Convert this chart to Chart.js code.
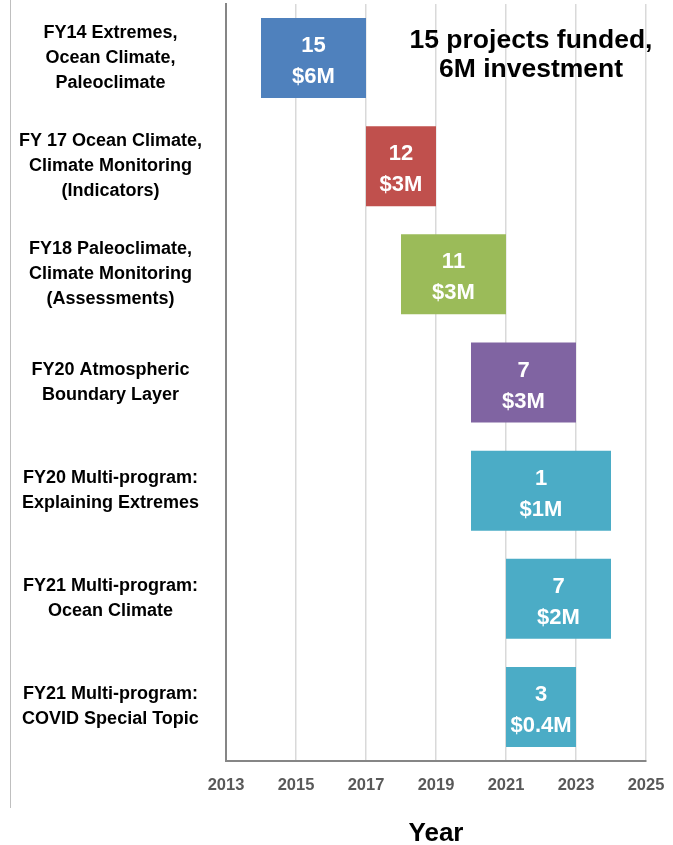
<!DOCTYPE html>
<html>
<head>
<meta charset="utf-8">
<script src="https://cdn.jsdelivr.net/npm/chart.js@4.4.1/dist/chart.umd.min.js"></script>
<style>
  html, body { margin: 0; padding: 0; background: #fff; }
  #wrap { width: 673px; height: 845px; position: relative; }
</style>
</head>
<body>
<div id="wrap"><canvas id="fundingChart"></canvas></div>
<script>
// programs (y categories), top to bottom
const programs = [
    ['FY14 Extremes,', 'Ocean Climate,', 'Paleoclimate'],
    ['FY 17 Ocean Climate,', 'Climate Monitoring', '(Indicators)'],
    ['FY18 Paleoclimate,', 'Climate Monitoring', '(Assessments)'],
    ['FY20 Atmospheric', 'Boundary Layer'],
    ['FY20 Multi-program:', 'Explaining Extremes'],
    ['FY21 Multi-program:', 'Ocean Climate'],
    ['FY21 Multi-program:', 'COVID Special Topic']
];
const startYears = [2014, 2017, 2018, 2020, 2020, 2021, 2021];
const endYears = [2017, 2019, 2021, 2023, 2024, 2024, 2023];
const projectCounts = ['15', '12', '11', '7', '1', '7', '3'];
const fundingAmounts = ['$6M', '$3M', '$3M', '$3M', '$1M', '$2M', '$0.4M'];
const barColors = ['#4f81bd', '#c0504d', '#9bbb59', '#8064a2', '#4bacc6', '#4bacc6', '#4bacc6'];
const yearMin = 2013;
const yearMax = 2025;
const yearStep = 2;
const noteLines = ['15 projects funded,', '6M investment'];

const SANS = "'Liberation Sans', Arial, sans-serif";

// white count / money text inside each bar
const barTextPlugin = {
    id: 'barText',
    afterDatasetsDraw(chart) {
        const ctx = chart.ctx;
        const meta = chart.getDatasetMeta(0);
        ctx.save();
        ctx.fillStyle = '#ffffff';
        ctx.font = 'bold 22px ' + SANS;
        ctx.textAlign = 'center';
        ctx.textBaseline = 'middle';
        meta.data.forEach(function (bar, i) {
            const cx = (bar.x + bar.base) / 2;
            ctx.fillText(projectCounts[i], cx, bar.y - 12);
            ctx.fillText(fundingAmounts[i], cx, bar.y + 19);
        });
        ctx.restore();
    }
};

// left frame line + the note in the top right
const decorPlugin = {
    id: 'decor',
    beforeDraw(chart) {
        const ctx = chart.ctx;
        ctx.save();
        ctx.strokeStyle = '#bfbfbf';
        ctx.lineWidth = 1;
        ctx.beginPath();
        ctx.moveTo(10.5, 0);
        ctx.lineTo(10.5, 808);
        ctx.stroke();
        ctx.restore();
    },
    afterDraw(chart) {
        const ctx = chart.ctx;
        ctx.save();
        ctx.fillStyle = '#000000';
        ctx.font = 'bold 26.5px ' + SANS;
        ctx.textAlign = 'center';
        ctx.textBaseline = 'middle';
        ctx.fillText(noteLines[0], 531, 41);
        ctx.fillText(noteLines[1], 531, 70);
        ctx.restore();
    }
};

const ctx = document.getElementById('fundingChart').getContext('2d');
new Chart(ctx, {
    type: 'bar',
    data: {
        labels: programs,
        datasets: [{
            data: startYears.map((s, i) => [s, endYears[i]]),
            backgroundColor: barColors,
            borderWidth: 0,
            barPercentage: 0.74,
            categoryPercentage: 1.0
        }]
    },
    options: {
        indexAxis: 'y',
        responsive: true,
        maintainAspectRatio: false,
        animation: false,
        layout: {
            padding: { top: 4, right: 27, bottom: 0, left: 0 }
        },
        plugins: {
            legend: { display: false },
            tooltip: { enabled: false }
        },
        scales: {
            x: {
                type: 'linear',
                min: yearMin,
                max: yearMax,
                ticks: {
                    stepSize: yearStep,
                    color: '#595959',
                    padding: 15,
                    font: { family: SANS, size: 16.5, weight: 'bold' },
                    callback: v => String(v)
                },
                grid: {
                    color: '#d9d9d9',
                    lineWidth: 1.5,
                    drawTicks: false
                },
                border: { color: '#868686', width: 2 },
                title: {
                    display: true,
                    text: 'Year',
                    color: '#000000',
                    font: { family: SANS, size: 26, weight: 'bold', lineHeight: 0.85 },
                    padding: { top: 26, bottom: 0 }
                },
                afterFit(scale) {
                    scale.height = 84;
                    scale.paddingLeft = 0;
                    scale.paddingRight = 0;
                }
            },
            y: {
                ticks: {
                    color: '#000000',
                    crossAlign: 'center',
                    padding: 24,
                    font: { family: SANS, size: 18, weight: 'bold', lineHeight: 1.39 }
                },
                grid: { display: false, drawTicks: false },
                border: { color: '#868686', width: 2 },
                afterFit(scale) {
                    scale.width = 226;
                    scale.paddingTop = 0;
                    scale.paddingBottom = 0;
                }
            }
        }
    },
    plugins: [barTextPlugin, decorPlugin]
});
</script>
</body>
</html>
